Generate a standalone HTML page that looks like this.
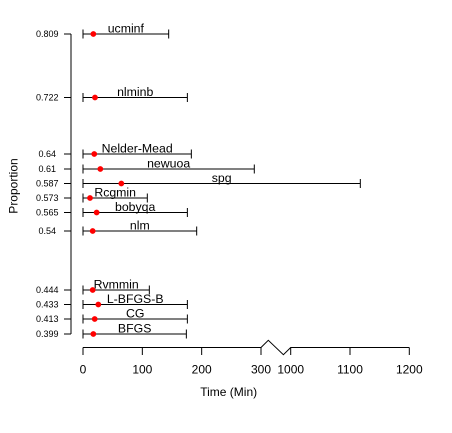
<!DOCTYPE html>
<html>
<head>
<meta charset="utf-8">
<title>Proportion vs Time</title>
<style>
html,body{margin:0;padding:0;background:#fff;width:452px;height:433px;overflow:hidden}
svg{display:block;font-family:"Liberation Sans",Arial,sans-serif;fill:#000}
</style>
</head>
<body>
<svg id="chart" xmlns="http://www.w3.org/2000/svg" width="452" height="433" viewBox="0 0 452 433">
<text transform="translate(17.3,186) rotate(-90)" text-anchor="middle" font-size="12">Proportion</text>
<text x="228.7" y="396" text-anchor="middle" font-size="12">Time (Min)</text>
</svg>
<script>
const methods = ['ucminf','nlminb','Nelder-Mead','newuoa','spg','Rcgmin','bobyqa','nlm','Rvmmin','L-BFGS-B','CG','BFGS'];
const proportionLabels = ['0.809','0.722','0.64','0.61','0.587','0.573','0.565','0.54','0.444','0.433','0.413','0.399'];
const adjustedProportions = [0.809,0.72222,0.645,0.6245,0.60468,0.58487,0.56505,0.53977,0.45913,0.43932,0.4195,0.399];
const medianTimes = [17.4,20.2,19,29.2,64.6,11.8,23,16.3,16.3,25.8,19.7,17.4];
const lowTimes = [0,0,0,0,0,0,0,0,0,0,0,0];
const highTimes = [144.4,175.9,182.6,288.7,1117.4,108.4,175.9,191.6,111.8,175.9,175.9,174.2];
const xTicks = [0,100,200,300,1000,1100,1200];

const svg = document.getElementById('chart');
const NS = 'http://www.w3.org/2000/svg';
function xScale(v){
  return v <= 300 ? 83 + v * 178 / 300 : 290.7 + (v - 1000) * 118.6 / 200;
}
function yScale(v){
  return 334 - (v - 0.399) * 300 / 0.41;
}
function make(tag, attrs, text){
  const el = document.createElementNS(NS, tag);
  for (const k in attrs) el.setAttribute(k, attrs[k]);
  if (text !== undefined) el.textContent = text;
  svg.appendChild(el);
  return el;
}
const lineStyle = {stroke:'#000', 'stroke-width':1, fill:'none'};

// y axis
const yTop = yScale(Math.max(...adjustedProportions));
const yBottom = yScale(Math.min(...adjustedProportions));
const yAxis = make('line', {x1:71, x2:71, y1:yTop, y2:yBottom, ...lineStyle});



// x axis with break
const breakPath = make('path', {d:`M${xScale(0)} 347.5 L${xScale(300)} 347.5 L268.3 340.3 L283.4 354.7 L${xScale(1000)} 347.5 L${xScale(1200)} 347.5`, ...lineStyle});



xTicks.forEach(function(t){
  const x = xScale(t);
  const tick = make('line', {x1:x, x2:x, y1:347.5, y2:355, ...lineStyle});
  
  
  const label = make('text', {x:x, y:373.7, 'text-anchor':'middle', 'font-size':12}, String(t));
  
  
});

methods.forEach(function(name, i){
  const y = yScale(adjustedProportions[i]);
  const lo = xScale(lowTimes[i]);
  const hi = xScale(highTimes[i]);

  const tick = make('line', {x1:64, x2:71, y1:y, y2:y, ...lineStyle});
  
  

  const tickLabel = make('text', {x:47.3, y:y + 3, 'text-anchor':'middle', 'font-size':9}, proportionLabels[i]);
  
  

  const range = make('line', {x1:lo, x2:hi, y1:y, y2:y, ...lineStyle});
  
  

  const capLow = make('line', {x1:lo, x2:lo, y1:y - 4.5, y2:y + 4.5, ...lineStyle});
  
  

  const capHigh = make('line', {x1:hi, x2:hi, y1:y - 4.5, y2:y + 4.5, ...lineStyle});
  
  

  const label = make('text', {x:(lo + hi) / 2, y:y - 1.5, 'text-anchor':'middle', 'font-size':12.3}, name);
  
  

  const point = make('circle', {cx:xScale(medianTimes[i]), cy:y, r:2.9, fill:'#f00'});
  
  
});
</script>
</body>
</html>
